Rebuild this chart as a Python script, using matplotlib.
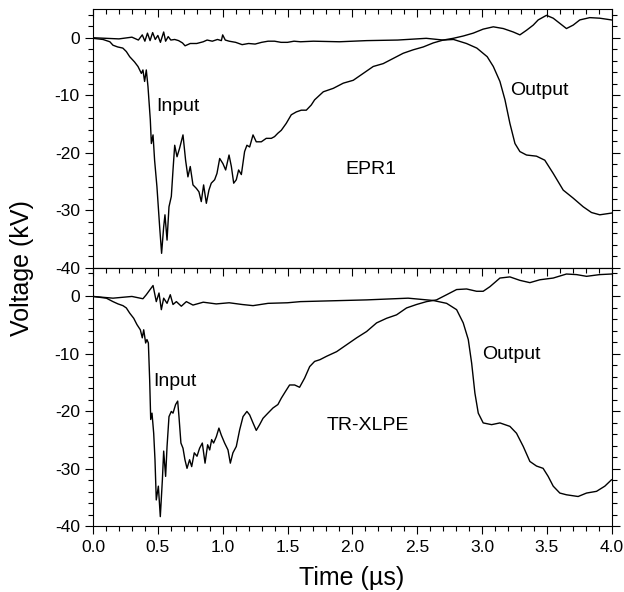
import matplotlib.pyplot as plt
from matplotlib.ticker import MultipleLocator, FormatStrFormatter

plt.rcParams['font.family'] = ['Liberation Sans', 'DejaVu Sans']
plt.rcParams['axes.unicode_minus'] = False

# ---- EPR1 (top panel) ----
epr_in_t = [0.0, 0.077, 0.13, 0.154, 0.19, 0.23, 0.257, 0.283, 0.32, 0.347, 0.373, 0.385,
            0.398, 0.411, 0.424, 0.442, 0.45, 0.463, 0.475, 0.493, 0.514, 0.529, 0.545,
            0.555, 0.571, 0.586, 0.604, 0.617, 0.63, 0.648, 0.668, 0.694, 0.714, 0.732,
            0.75, 0.771, 0.797, 0.817, 0.835, 0.853, 0.874, 0.894, 0.912, 0.938, 0.956,
            0.977, 1.002, 1.023, 1.049, 1.067, 1.085, 1.105, 1.123, 1.144, 1.169, 1.187,
            1.208, 1.234, 1.259, 1.298, 1.336, 1.375, 1.40, 1.426, 1.452, 1.49, 1.529,
            1.568, 1.606, 1.645, 1.683, 1.709, 1.776, 1.853, 1.93, 2.007, 2.084, 2.161,
            2.238, 2.315, 2.392, 2.469, 2.547, 2.624, 2.701, 2.778, 2.855, 2.932, 3.009,
            3.087, 3.164, 3.241, 3.292, 3.343, 3.395, 3.433, 3.497, 3.549, 3.60, 3.651,
            3.703, 3.754, 3.831, 3.908, 3.998]
epr_in_v = [-0.1, -0.3, -0.7, -1.3, -1.6, -1.8, -2.4, -3.3, -4.2, -5.0, -6.2, -5.6,
            -7.6, -5.6, -8.5, -14.3, -18.4, -16.9, -21.3, -25.9, -32.9, -37.5, -32.9,
            -30.8, -35.2, -29.4, -27.6, -23.0, -18.7, -20.7, -19.2, -16.9, -21.3, -24.2,
            -22.4, -25.6, -26.2, -26.8, -28.5, -25.6, -28.8, -26.5, -25.3, -24.7, -23.6,
            -21.0, -21.9, -23.0, -20.4, -22.4, -25.3, -24.7, -23.0, -23.8, -19.8, -18.7,
            -19.0, -16.9, -18.1, -18.1, -17.5, -17.5, -17.2, -16.6, -16.1, -14.9, -13.4,
            -12.9, -12.6, -12.6, -11.7, -10.8, -9.4, -8.8, -7.9, -7.4, -6.2, -5.0,
            -4.5, -3.6, -2.7, -2.1, -1.6, -0.9, -0.4, -0.1, 0.3, 0.8, 1.5,
            1.9, 1.6, 1.0, 0.5, 1.3, 2.2, 3.1, 3.9, 3.4, 2.5, 1.6,
            2.2, 3.1, 3.5, 3.4, 3.1]

epr_out_t = [0.0, 0.1, 0.2, 0.3, 0.35, 0.38, 0.40, 0.42, 0.44, 0.46, 0.48, 0.50, 0.52,
             0.545, 0.56, 0.58, 0.60, 0.63, 0.66, 0.69, 0.71, 0.75, 0.80, 0.85, 0.88,
             0.92, 0.96, 0.99, 1.00, 1.02, 1.05, 1.10, 1.15, 1.20, 1.25, 1.30, 1.35,
             1.40, 1.45, 1.50, 1.55, 1.60, 1.70, 1.90, 2.11, 2.35, 2.57, 2.70, 2.78,
             2.88, 2.96, 3.04, 3.087, 3.138, 3.177, 3.215, 3.254, 3.292, 3.343, 3.42,
             3.484, 3.549, 3.626, 3.703, 3.78, 3.844, 3.908, 3.998]
epr_out_v = [0.0, -0.1, -0.2, 0.1, -0.4, 0.5, -0.6, 0.8, -0.5, 0.9, -0.3, 0.4, -0.8,
             1.0, -0.6, 0.2, -0.4, -0.3, -0.5, -0.9, -1.4, -1.0, -1.0, -0.7, -0.4,
             -0.6, -0.3, -0.5, 0.5, -0.4, -0.6, -0.8, -1.2, -1.0, -1.1, -0.8, -0.6,
             -0.6, -0.8, -0.8, -0.6, -0.7, -0.6, -0.7, -0.5, -0.4, -0.1, -0.4, -0.3,
             -1.0, -1.8, -3.3, -5.0, -7.6, -10.8, -14.9, -18.4, -19.8, -20.4, -20.6,
             -21.3, -23.6, -26.5, -27.9, -29.4, -30.4, -30.8, -30.5]

# ---- TR-XLPE (bottom panel) ----
xlpe_in_t = [0.0, 0.103, 0.154, 0.193, 0.231, 0.257, 0.283, 0.314, 0.339, 0.365, 0.38,
             0.391, 0.406, 0.416, 0.427, 0.437, 0.445, 0.455, 0.468, 0.478, 0.488, 0.504,
             0.519, 0.535, 0.545, 0.56, 0.571, 0.586, 0.604, 0.617, 0.637, 0.653, 0.663,
             0.678, 0.694, 0.709, 0.725, 0.745, 0.761, 0.781, 0.802, 0.822, 0.843, 0.864,
             0.884, 0.90, 0.915, 0.93, 0.951, 0.971, 0.989, 1.015, 1.041, 1.059, 1.079,
             1.105, 1.131, 1.157, 1.187, 1.208, 1.234, 1.259, 1.285, 1.311, 1.349, 1.388,
             1.426, 1.452, 1.485, 1.516, 1.555, 1.593, 1.632, 1.671, 1.709, 1.75, 1.802,
             1.879, 1.956, 2.033, 2.11, 2.187, 2.264, 2.341, 2.418, 2.495, 2.572, 2.649,
             2.727, 2.804, 2.881, 2.958, 3.009, 3.061, 3.138, 3.215, 3.292, 3.369, 3.446,
             3.549, 3.651, 3.729, 3.806, 3.908, 3.998]
xlpe_in_v = [0.0, -0.3, -0.9, -1.3, -1.6, -2.0, -2.9, -3.8, -4.9, -5.8, -7.2,
             -5.8, -8.1, -7.5, -8.1, -14.5, -21.4, -20.3, -23.8, -28.4, -35.4, -33.0,
             -38.3, -31.9, -26.9, -31.3, -26.1, -20.9, -20.0, -20.3, -18.8, -18.2, -20.9,
             -25.5, -26.4, -28.4, -29.9, -28.4, -29.6, -27.2, -27.8, -26.4, -25.5, -29.0,
             -25.8, -26.7, -24.9, -25.5, -24.4, -22.9, -24.1, -25.5, -26.7, -29.0, -27.2,
             -26.1, -23.2, -20.9, -20.0, -20.6, -22.0, -23.3, -22.3, -21.2, -20.3, -19.4,
             -18.8, -17.7, -16.5, -15.4, -15.4, -15.8, -14.2, -12.2, -11.3, -11.0, -10.4,
             -9.6, -8.4, -7.2, -6.1, -4.6, -3.8, -3.2, -2.0, -1.4, -0.9, -0.6,
             0.3, 1.2, 1.3, 0.9, 0.9, 1.7, 3.2, 3.4, 2.8, 2.4, 2.9,
             3.2, 3.9, 3.8, 3.5, 3.8, 3.9]

xlpe_out_t = [0.0, 0.154, 0.3, 0.385, 0.411, 0.463, 0.488, 0.509, 0.527, 0.545, 0.571,
              0.596, 0.617, 0.643, 0.681, 0.72, 0.771, 0.85, 0.95, 1.05, 1.15, 1.234,
              1.35, 1.5, 1.6, 2.11, 2.43, 2.623, 2.727, 2.804, 2.855, 2.894, 2.92, 2.945,
              2.971, 3.009, 3.074, 3.138, 3.215, 3.266, 3.318, 3.369, 3.42, 3.471, 3.51,
              3.549, 3.60, 3.651, 3.741, 3.806, 3.883, 3.947, 3.998]
xlpe_out_v = [0.0, -0.3, 0.0, -0.4, 0.3, 1.9, -0.9, 0.6, -2.3, -0.3, -1.2,
              0.3, -1.4, -0.9, -1.7, -0.9, -1.5, -1.0, -1.3, -1.1, -1.4, -1.6,
              -1.2, -1.1, -0.9, -0.6, -0.3, -0.7, -1.2, -2.3, -4.6, -7.5, -11.6, -16.8,
              -20.3, -22.0, -22.3, -22.0, -22.6, -23.8, -26.1, -28.7, -29.5, -29.9, -31.3,
              -33.0, -34.2, -34.5, -34.8, -34.2, -33.9, -33.0, -31.9]

panels = [
    (epr_in_t, epr_in_v, epr_out_t, epr_out_v, 'EPR1', (0.49, -11.9), (3.215, -9.1), (1.943, -23.0)),
    (xlpe_in_t, xlpe_in_v, xlpe_out_t, xlpe_out_v, 'TR-XLPE', (0.463, -14.8), (3.004, -10.1), (1.80, -22.4)),
]

fig = plt.figure(figsize=(6.24, 5.92), dpi=100)
left, width = 93 / 624, (611.7 - 93) / 624
h = 258.7 / 592
ax_top = fig.add_axes([left, 1 - (9 + h * 592) / 592, width, h])
ax_bot = fig.add_axes([left, 1 - (9 + 2 * h * 592) / 592, width, h])

for ax, (ti, vi, to, vo, name, p_in, p_out, p_name) in zip([ax_top, ax_bot], panels):
    ax.plot(ti, vi, color='black', lw=1.0)
    ax.plot(to, vo, color='black', lw=1.0)
    ax.text(p_in[0], p_in[1], 'Input', fontsize=14, va='center', ha='left')
    ax.text(p_out[0], p_out[1], 'Output', fontsize=14, va='center', ha='left')
    ax.text(p_name[0], p_name[1], name, fontsize=14, va='center', ha='left')

    ax.set_xlim(0, 4.0)
    ax.set_ylim(-40, 5)
    ax.xaxis.set_major_locator(MultipleLocator(0.5))
    ax.xaxis.set_minor_locator(MultipleLocator(0.1))
    ax.yaxis.set_major_locator(MultipleLocator(10))
    ax.yaxis.set_minor_locator(MultipleLocator(2))
    ax.xaxis.set_major_formatter(FormatStrFormatter('%.1f'))
    ax.tick_params(axis='y', which='both', left=True, right=True, direction='out', labelsize=12.5)
    ax.tick_params(axis='y', which='major', length=6, width=0.8)
    ax.tick_params(axis='y', which='minor', length=3.5, width=0.8)
    for sp in ax.spines.values():
        sp.set_linewidth(0.8)

# top panel: ticks only on the top edge, pointing down
ax_top.tick_params(axis='x', which='both', top=True, bottom=False, labelbottom=False,
                   direction='in')
ax_top.tick_params(axis='x', which='major', length=6, width=0.8)
ax_top.tick_params(axis='x', which='minor', length=3.5, width=0.8)

# bottom panel: outward ticks below, inward ticks on the shared edge
ax_bot.tick_params(axis='x', which='both', top=False, bottom=True, direction='out', labelsize=12.5)
ax_bot.tick_params(axis='x', which='major', length=6, width=0.8)
ax_bot.tick_params(axis='x', which='minor', length=3.5, width=0.8)
sec = ax_bot.secondary_xaxis('top')
sec.xaxis.set_major_locator(MultipleLocator(0.5))
sec.xaxis.set_minor_locator(MultipleLocator(0.1))
sec.tick_params(axis='x', which='both', direction='in', labeltop=False, width=0.8)
sec.tick_params(axis='x', which='major', length=6)
sec.tick_params(axis='x', which='minor', length=3.5)
sec.spines['top'].set_linewidth(0.8)

fig.text(352 / 624, 1 - 578 / 592, 'Time (µs)', fontsize=18, ha='center', va='center')
fig.text(22 / 624, 1 - 268 / 592, 'Voltage (kV)', fontsize=18, ha='center', va='center',
         rotation=90)

fig.savefig('out.png', dpi=100)
